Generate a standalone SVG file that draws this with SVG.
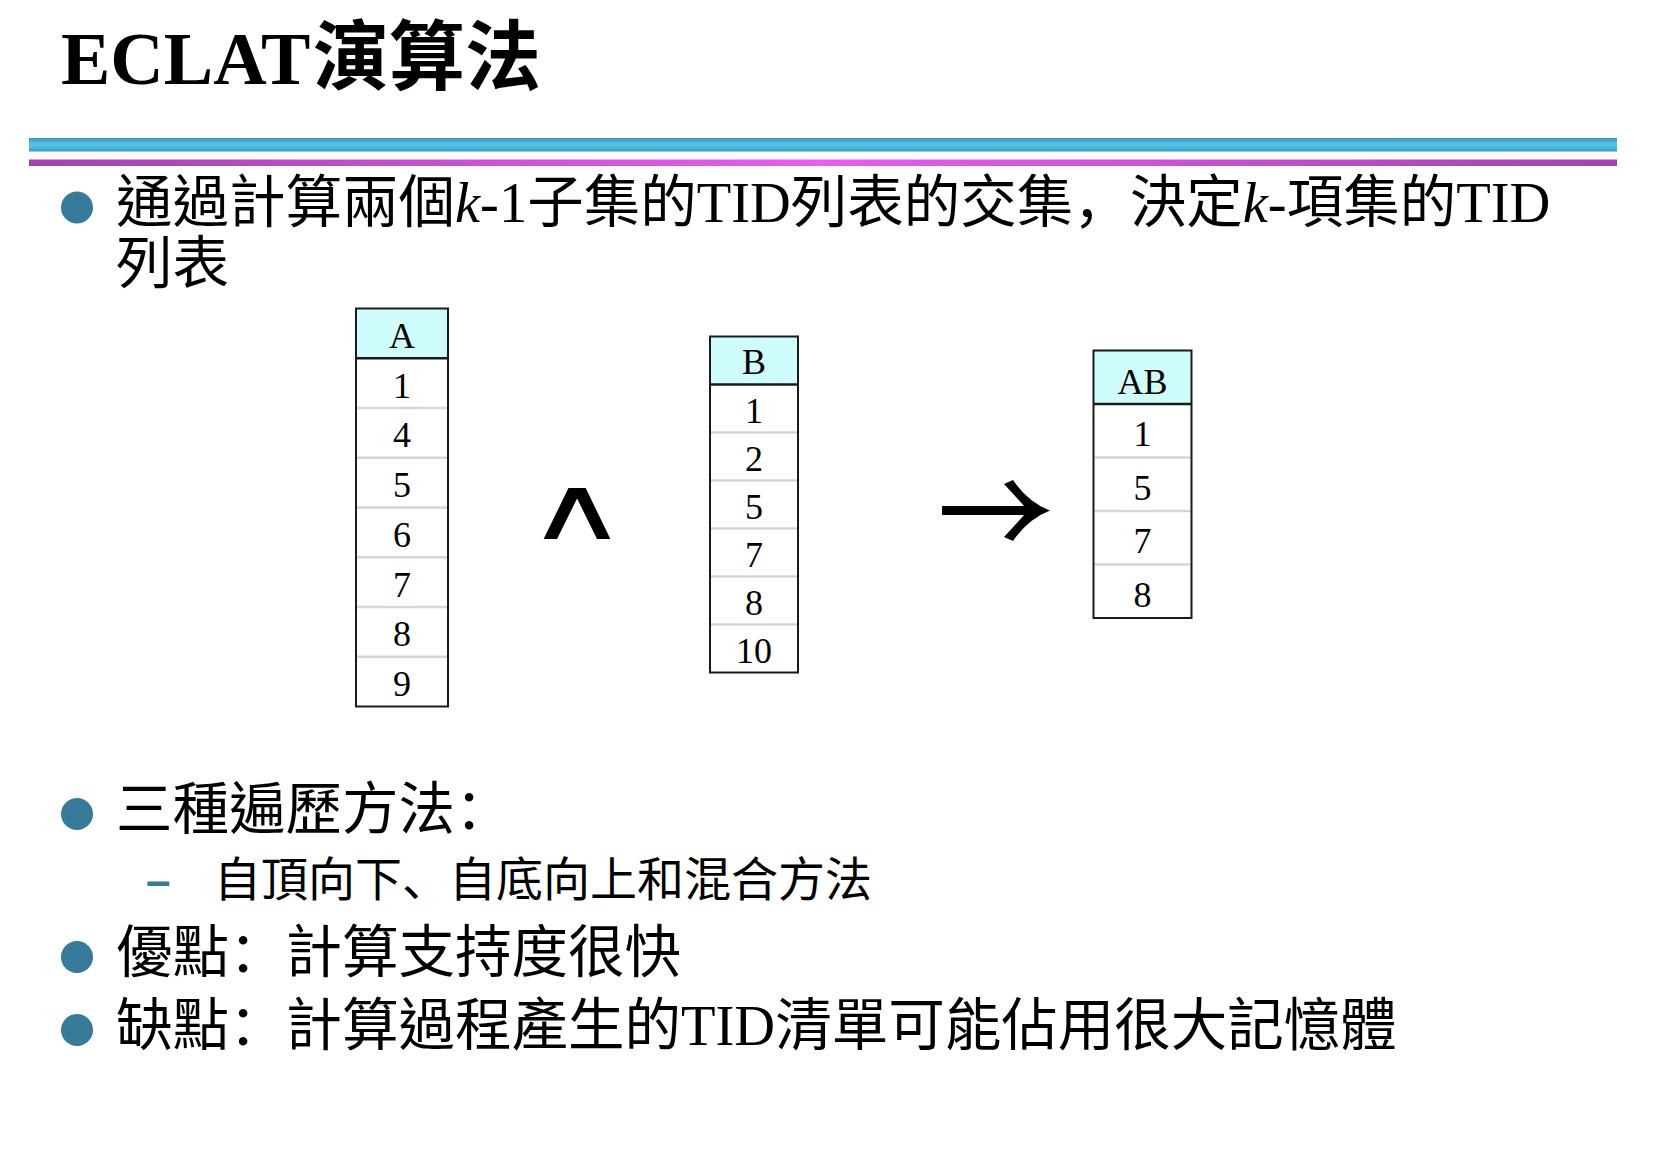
<svg xmlns="http://www.w3.org/2000/svg" width="1656" height="1152" viewBox="0 0 1656 1152">
  <defs>
    <linearGradient id="barCyan" x1="0" y1="0" x2="0" y2="1">
      <stop offset="0" stop-color="#3a98b8"/>
      <stop offset="0.45" stop-color="#52c3e5"/>
      <stop offset="0.7" stop-color="#4bbbdf"/>
      <stop offset="1" stop-color="#3a98b8"/>
    </linearGradient>
    <linearGradient id="barMagenta" x1="0" y1="0" x2="1" y2="0">
      <stop offset="0" stop-color="#a243ae"/>
      <stop offset="0.5" stop-color="#ea5cf2"/>
      <stop offset="1" stop-color="#a243ae"/>
    </linearGradient>
    <style>
      .title { font-family: "Liberation Serif", "Noto Sans CJK TC", serif; font-weight: bold; fill: #000; }
      .body { font-family: "Liberation Serif", "Noto Sans CJK TC", serif; font-size: 56.5px; fill: #000; }
      .sub { font-family: "Liberation Serif", "Noto Sans CJK TC", serif; font-size: 47px; fill: #000; }
      .punct { font-family: "Noto Sans CJK SC", sans-serif; }
      .it { font-style: italic; }
      .bullet { fill: #387a9a; }
      .dash { font-family: "Liberation Sans", sans-serif; font-weight: bold; font-size: 44px; fill: #387a9a; }
      .head { fill: #cffcfd; }
      .frame { fill: none; stroke: #1a1a1a; stroke-width: 2; }
      .rule { stroke: #d6d6d6; stroke-width: 2.5; }
      .headrule { stroke: #1a1a1a; stroke-width: 2.5; }
      .cell { font-family: "Liberation Serif", serif; font-size: 36px; fill: #000; text-anchor: middle; }
      .op { font-family: "DejaVu Sans", sans-serif; fill: #000; text-anchor: middle; }
      .shaft { fill: none; stroke: #000; stroke-width: 9; }
      .tip { fill: #000; }
    </style>
  </defs>

  <rect width="1656" height="1152" fill="#ffffff"/>

  <!-- heading -->
  <g id="title">
    <text class="title" x="61" y="84" font-size="74">ECLAT<tspan x="313" font-size="76">演算法</tspan></text>
  </g>

  <!-- decorative rules under the heading -->
  <g id="header-bars">
    <rect x="29" y="138" width="1588" height="13.5" fill="url(#barCyan)"/>
    <rect x="29" y="159.5" width="1588" height="6.5" fill="url(#barMagenta)"/>
  </g>

  <!-- bullet: intersection of TID lists -->
  <g id="point-intersection">
    <ellipse class="bullet" cx="77" cy="207.5" rx="16" ry="16"/>
    <text class="body" x="116" y="222">通過計算兩個<tspan class="it">k</tspan>-1子集的TID列表的交集<tspan class="punct">，</tspan>決定<tspan class="it">k</tspan>-項集的TID</text>
    <text class="body" x="116" y="283">列表</text>
  </g>

  <!-- TID list of item A -->
  <g id="table-a">
    <rect class="head" x="356" y="308.5" width="92" height="49.75"/>
    <g>
      <line class="rule" x1="357" y1="408" x2="447" y2="408"/>
      <line class="rule" x1="357" y1="457.75" x2="447" y2="457.75"/>
      <line class="rule" x1="357" y1="507.5" x2="447" y2="507.5"/>
      <line class="rule" x1="357" y1="557.25" x2="447" y2="557.25"/>
      <line class="rule" x1="357" y1="607" x2="447" y2="607"/>
      <line class="rule" x1="357" y1="656.75" x2="447" y2="656.75"/>
    </g>
    <line class="headrule" x1="356" y1="358.25" x2="448" y2="358.25"/>
    <rect class="frame" x="356" y="308.5" width="92" height="398"/>
    <text class="cell" x="402" y="348">A</text>
    <text class="cell" x="402" y="397.5">1</text>
    <text class="cell" x="402" y="447.25">4</text>
    <text class="cell" x="402" y="497">5</text>
    <text class="cell" x="402" y="546.75">6</text>
    <text class="cell" x="402" y="596.5">7</text>
    <text class="cell" x="402" y="646.25">8</text>
    <text class="cell" x="402" y="696">9</text>
  </g>

  <!-- TID list of item B -->
  <g id="table-b">
    <rect class="head" x="710" y="336.5" width="88" height="48"/>
    <g>
      <line class="rule" x1="711" y1="432.5" x2="797" y2="432.5"/>
      <line class="rule" x1="711" y1="480.5" x2="797" y2="480.5"/>
      <line class="rule" x1="711" y1="528.5" x2="797" y2="528.5"/>
      <line class="rule" x1="711" y1="576.5" x2="797" y2="576.5"/>
      <line class="rule" x1="711" y1="624.5" x2="797" y2="624.5"/>
    </g>
    <line class="headrule" x1="710" y1="384.5" x2="798" y2="384.5"/>
    <rect class="frame" x="710" y="336.5" width="88" height="336"/>
    <text class="cell" x="754" y="373.5">B</text>
    <text class="cell" x="754" y="423">1</text>
    <text class="cell" x="754" y="471">2</text>
    <text class="cell" x="754" y="519">5</text>
    <text class="cell" x="754" y="567">7</text>
    <text class="cell" x="754" y="615">8</text>
    <text class="cell" x="754" y="663">10</text>
  </g>

  <!-- resulting TID list of itemset AB -->
  <g id="table-ab">
    <rect class="head" x="1093.5" y="350.5" width="98" height="53.5"/>
    <g>
      <line class="rule" x1="1094.5" y1="457.5" x2="1190.5" y2="457.5"/>
      <line class="rule" x1="1094.5" y1="511" x2="1190.5" y2="511"/>
      <line class="rule" x1="1094.5" y1="564.5" x2="1190.5" y2="564.5"/>
    </g>
    <line class="headrule" x1="1093.5" y1="404" x2="1191.5" y2="404"/>
    <rect class="frame" x="1093.5" y="350.5" width="98" height="267.5"/>
    <text class="cell" x="1142.5" y="393.5" font-size="39">AB</text>
    <text class="cell" x="1142.5" y="446" font-size="38">1</text>
    <text class="cell" x="1142.5" y="499.5" font-size="38">5</text>
    <text class="cell" x="1142.5" y="553" font-size="38">7</text>
    <text class="cell" x="1142.5" y="606.5" font-size="38">8</text>
  </g>

  <!-- operators between the lists -->
  <g id="connectors">
    <text class="op" transform="translate(577,539) scale(1.6,1)" x="0" y="0" font-size="88">∧</text>
    <line class="shaft" x1="942" y1="510.5" x2="1034" y2="510.5"/>
    <path class="tip" d="M1050,510.5 Q1028,519 1013,541 L1004,537 Q1018,522 1028,510.5 Q1018,499 1004,484 L1013,480 Q1028,502 1050,510.5 Z"/>
  </g>

  <!-- bullet: traversal strategies -->
  <g id="point-traversal">
    <ellipse class="bullet" cx="77" cy="814" rx="16" ry="16"/>
    <text class="body" x="116" y="829">三種遍歷方法<tspan class="punct">：</tspan></text>
    <text class="dash" x="146" y="896">–</text>
    <text class="sub" x="214" y="896">自頂向下<tspan class="punct">、</tspan>自底向上和混合方法</text>
  </g>

  <!-- bullet: advantage -->
  <g id="point-advantage">
    <ellipse class="bullet" cx="77" cy="957" rx="16" ry="16"/>
    <text class="body" x="116" y="972">優點<tspan class="punct">：</tspan>計算支持度很快</text>
  </g>

  <!-- bullet: drawback -->
  <g id="point-drawback">
    <ellipse class="bullet" cx="77" cy="1030" rx="16" ry="16"/>
    <text class="body" x="116" y="1045">缺點<tspan class="punct">：</tspan>計算過程產生的TID清單可能佔用很大記憶體</text>
  </g>
</svg>
